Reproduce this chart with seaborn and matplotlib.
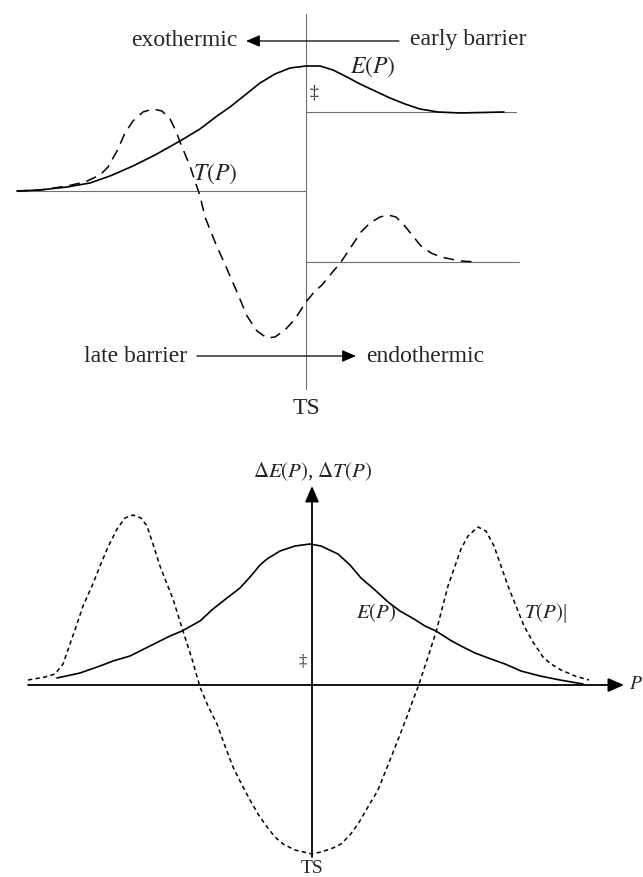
import numpy as np
import pandas as pd
import matplotlib
matplotlib.use("Agg")
import matplotlib.pyplot as plt
import seaborn as sns

# Top panel: reaction coordinate (TS at 0) and energy, arbitrary units
top_p_e = [-289, -266, -239, -216, -196, -173, -151, -126, -106, -89, -76, -61, -46, -31,
           -16, 0, 14, 27, 39, 54, 69, 84, 99, 114, 132, 154, 198]
top_e = [0, 1, 4, 8, 15, 25, 36, 50, 62, 75, 84, 96, 108, 117,
         123, 125, 125, 121, 115, 107, 100, 93, 87, 82, 79, 78, 79]

top_p_t = [-289, -266, -239, -221, -206, -198, -189, -181, -173, -163, -153, -144, -136, -130,
           -126, -121, -116, -111, -106, -101, -91, -79, -69, -59, -49, -39, -31, -21, -11,
           0, 9, 16, 25, 35, 45, 55, 64, 74, 82, 90, 98, 106, 115, 125, 135, 154, 172]
top_t = [0, 1, 5, 9, 16, 24, 40, 58, 70, 79, 82, 80, 72, 60,
         49, 37, 25, 10, -5, -26, -51, -78, -101, -125, -140, -147, -146, -139, -128,
         -111, -100, -94, -83, -71, -56, -41, -32, -26, -24, -26, -34, -44, -55, -62, -66, -70, -71]

# reactant / product levels in the top panel
reactant_level = 0
product_level_e = 79
product_level_t = -71

# Bottom panel: differences Delta E(P), Delta T(P)
bot_p_e = [-255, -232, -212, -199, -182, -162, -142, -130, -112, -99, -85, -72, -62, -52,
           -45, -32, -17, -2, 9, 26, 38, 49, 63, 76, 88, 102, 113, 124, 138, 149, 163,
           179, 193, 209, 228, 248, 271]
bot_e = [7, 12, 19, 24, 29, 39, 49, 54, 64, 76, 87, 97, 108, 120,
         126, 134, 139, 141, 139, 131, 120, 107, 95, 83, 74, 66, 59, 54, 45, 39, 32,
         26, 21, 14, 9, 5, 1]

bot_p_t = [-284, -267, -257, -249, -242, -235, -229, -220, -212, -204, -195, -187, -179, -171,
           -165, -159, -152, -145, -139, -129, -120, -112, -104, -95, -87, -79, -70, -62,
           -54, -45, -37, -29, -17, 0, 9, 21, 29, 38, 46, 56, 66, 74, 82, 89, 96, 101, 106,
           111, 116, 124, 130, 136, 143, 149, 156, 166, 174, 182, 189, 196, 204, 212, 221,
           231, 239, 249, 263, 277]
bot_t = [5, 8, 11, 21, 41, 61, 79, 99, 119, 138, 156, 167, 170, 167,
         159, 141, 119, 101, 86, 54, 26, -2, -21, -39, -61, -82, -100, -115,
         -129, -142, -152, -159, -165, -169, -167, -163, -159, -150, -139, -122, -105, -85,
         -65, -47, -29, -15, -2, 13, 28, 53, 76, 99, 119, 136, 149, 158, 154, 139, 119,
         99, 79, 59, 43, 28, 21, 15, 9, 5]

sns.set_theme(style="white")
plt.rcParams["font.family"] = ["Liberation Serif", "DejaVu Serif"]
plt.rcParams["mathtext.fontset"] = "stix"

W, H = 643, 878
fig = plt.figure(figsize=(W / 100, H / 100), dpi=100)

# ---------------- top panel ----------------
ax1 = fig.add_axes([0, 1 - 430 / H, 1, 430 / H])
ax1.set_xlim(-306, 337)
ax1.set_ylim(-238, 192)
ax1.axis("off")

grey = "#707070"
ax1.plot([0, 0], [177, -198], color=grey, lw=0.8)
ax1.plot([-289, 0], [reactant_level] * 2, color=grey, lw=0.8)
ax1.plot([0, 210], [product_level_e] * 2, color=grey, lw=0.8)
ax1.plot([0, 213], [product_level_t] * 2, color=grey, lw=0.8)

sns.lineplot(x=top_p_e, y=top_e, sort=False, estimator=None, color="black", lw=1.2, ax=ax1)
sns.lineplot(x=top_p_t, y=top_t, sort=False, estimator=None, color="black", lw=1.1,
             linestyle=(0, (7, 4.5)), ax=ax1)

arrow = dict(arrowstyle="-|>,head_length=0.7,head_width=0.3", color="black", lw=0.9,
             shrinkA=0, shrinkB=0)
ax1.annotate("", xy=(-60, 150), xytext=(93, 150), arrowprops=arrow)
ax1.annotate("", xy=(50, -165), xytext=(-109, -165), arrowprops=arrow)

fs = 17
ax1.text(-68, 152, "exothermic", ha="right", va="center", fontsize=fs)
ax1.text(104, 152, "early barrier", ha="left", va="center", fontsize=fs)
ax1.text(-119, -164, "late barrier", ha="right", va="center", fontsize=fs)
ax1.text(60, -164, "endothermic", ha="left", va="center", fontsize=fs)
ax1.text(0, -216, "TS", ha="center", va="center", fontsize=fs)
ax1.text(44, 125, r"$E(P)$", ha="left", va="center", fontsize=fs, color="#222222")
ax1.text(-113, 18, r"$T(P)$", ha="left", va="center", fontsize=fs, color="#222222")
ax1.text(8, 99, "\u2021", ha="center", va="center", fontsize=13)

# ---------------- bottom panel ----------------
ax2 = fig.add_axes([0, 0, 1, 448 / H])
ax2.set_xlim(-312, 331)
ax2.set_ylim(-192, 256)
ax2.axis("off")

axis_arrow = dict(arrowstyle="-|>,head_length=0.8,head_width=0.35", color="black", lw=1.3,
                  shrinkA=0, shrinkB=0)
ax2.annotate("", xy=(312, 0), xytext=(-284, 0), arrowprops=axis_arrow)
ax2.annotate("", xy=(0, 199), xytext=(0, -172), arrowprops=axis_arrow)

sns.lineplot(x=bot_p_e, y=bot_e, sort=False, estimator=None, color="black", lw=1.2, ax=ax2)
sns.lineplot(x=bot_p_t, y=bot_t, sort=False, estimator=None, color="black", lw=1.1,
             linestyle=(0, (2.8, 2.2)), ax=ax2)

fs2 = 15
ax2.text(1, 214, r"$\Delta E(P)$, $\Delta T(P)$", ha="center", va="center", fontsize=fs2,
         color="#222222")
ax2.text(317, 1, r"$P$", ha="left", va="center", fontsize=14)
ax2.text(0, -191, "TS", ha="center", va="bottom", fontsize=14)
ax2.text(44, 73, r"$E(P)$", ha="left", va="center", fontsize=fs2, color="#222222")
ax2.text(212, 73, r"$T(P)$|", ha="left", va="center", fontsize=fs2, color="#222222")
ax2.text(-9, 24, "\u2021", ha="center", va="center", fontsize=12)

fig.savefig("out.png", dpi=100)
